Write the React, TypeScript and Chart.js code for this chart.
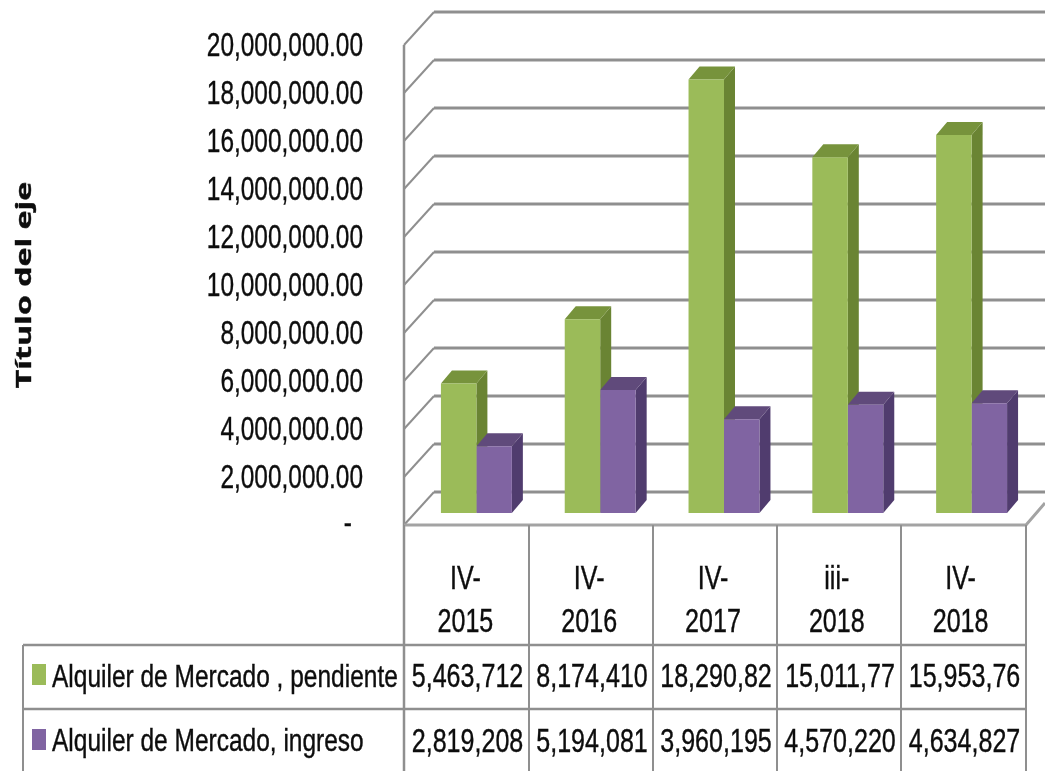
import React, { useEffect, useRef } from "react";
import { Chart, registerables } from "chart.js";

Chart.register(...registerables);

const categories = [["IV-", "2015"], ["IV-", "2016"], ["IV-", "2017"], ["iii-", "2018"], ["IV-", "2018"]];
const seriesNames = ["Alquiler de Mercado , pendiente", "Alquiler de Mercado, ingreso"];
const pendiente = [5463712, 8174410, 18290820, 15011770, 15953760];
const ingreso = [2819208, 5194081, 3960195, 4570220, 4634827];
const pendienteLabels = ["5,463,712", "8,174,410", "18,290,82", "15,011,77", "15,953,76"];
const ingresoLabels = ["2,819,208", "5,194,081", "3,960,195", "4,570,220", "4,634,827"];
const axisTitle = "Título del eje";

const SANS = '"Liberation Sans"';
const GRID = "#8f8f8f";
const TEXT = "#0d0d0d";
const FRONT = ["#9BBB59", "#8064A2"];
const TOP = ["#77933C", "#604A7B"];
const SIDE = ["#6A8433", "#503C6E"];
const DX = 11;
const DY = 13;

const line = (ctx: CanvasRenderingContext2D, pts: number[][], w: number, c: string) => {
  ctx.beginPath();
  pts.forEach((p, i) => (i ? ctx.lineTo(p[0], p[1]) : ctx.moveTo(p[0], p[1])));
  ctx.lineWidth = w;
  ctx.strokeStyle = c;
  ctx.stroke();
};
const poly = (ctx: CanvasRenderingContext2D, pts: number[][], c: string) => {
  ctx.beginPath();
  pts.forEach((p, i) => (i ? ctx.lineTo(p[0], p[1]) : ctx.moveTo(p[0], p[1])));
  ctx.closePath();
  ctx.fillStyle = c;
  ctx.fill();
};
// text squeezed or stretched along its run, as in the reference
const text = (
  ctx: CanvasRenderingContext2D,
  s: string,
  x: number,
  y: number,
  font: string,
  sx: number,
  align: CanvasTextAlign,
  rot = 0,
) => {
  ctx.save();
  ctx.translate(x, y);
  if (rot) ctx.rotate(rot);
  ctx.scale(sx, 1);
  ctx.font = font;
  ctx.textAlign = align;
  ctx.textBaseline = "middle";
  ctx.fillStyle = TEXT;
  ctx.fillText(s, 0, 0);
  ctx.strokeStyle = TEXT;
  ctx.lineWidth = 0.4;
  ctx.strokeText(s, 0, 0);
  ctx.restore();
};
const fmt = (v: number) =>
  v === 0 ? "-" : v.toLocaleString("en-US", { minimumFractionDigits: 2, maximumFractionDigits: 2 });

const threeD = {
  id: "threeD",
  beforeDatasetsDraw(chart: any) {
    const ctx: CanvasRenderingContext2D = chart.ctx;
    const y = chart.scales.y;
    const wall = (v: number) => 525 - (y.getPixelForValue(0) - y.getPixelForValue(v)) * 1.0127;
    ctx.save();
    line(ctx, [[404, wall(20000000)], [404, 771]], 2.5, GRID);
    y.ticks.forEach((t: any) => {
      const fy = wall(t.value);
      const by = fy - 33;
      line(ctx, [[404, fy], [434, by]], 2, GRID);
      line(ctx, [[434, by], [1045, by]], 3, GRID);
      if (t.value === 0) text(ctx, fmt(0), 352, fy, `33px ${SANS}`, 0.74, "right");
      else text(ctx, fmt(t.value), 363, fy + 2, `33px ${SANS}`, 0.74, "right");
    });
    line(ctx, [[404, wall(0)], [1026, wall(0)], [1045, wall(0) - 22]], 3, "#a3a3a3");
    [0, 1].forEach((d) => {
      chart.getDatasetMeta(d).data.forEach((b: any) => {
        const l = b.x - b.width / 2;
        const r = b.x + b.width / 2;
        poly(ctx, [[r, b.y], [r + DX, b.y - DY], [r + DX, b.base - DY], [r, b.base]], SIDE[d]);
        poly(ctx, [[l, b.y], [r, b.y], [r + DX, b.y - DY], [l + DX, b.y - DY]], TOP[d]);
      });
    });
    ctx.restore();
  },
  afterDraw(chart: any) {
    const ctx: CanvasRenderingContext2D = chart.ctx;
    const x = chart.scales.x;
    ctx.save();
    const xs = [404, 529, 653, 777, 901, 1026];
    xs.forEach((px) => line(ctx, [[px, 525], [px, 771]], 2, GRID));
    line(ctx, [[23, 645], [1026, 645]], 2.5, GRID);
    line(ctx, [[23, 709], [1026, 709]], 2.5, GRID);
    line(ctx, [[23, 645], [23, 771]], 2, GRID);
    categories.forEach((c, i) => {
      const cx = x.getPixelForTick(i) - 11;
      text(ctx, c[0], cx, 580, `33px ${SANS}`, 0.76, "center");
      text(ctx, c[1], cx, 623, `33px ${SANS}`, 0.76, "center");
    });
    ctx.fillStyle = FRONT[0];
    ctx.fillRect(32, 664, 14, 21);
    ctx.fillStyle = FRONT[1];
    ctx.fillRect(32, 729, 14, 21);
    seriesNames.forEach((s, r) => text(ctx, s, 52, r ? 742 : 678, `31px ${SANS}`, 0.79, "left"));
    [pendienteLabels, ingresoLabels].forEach((row, r) => {
      row.forEach((s, i) =>
        text(ctx, s, (xs[i] + xs[i + 1]) / 2 + 1, r ? 743 : 678, `33px ${SANS}`, 0.76, "center"),
      );
    });
    text(ctx, axisTitle, 25, 285, 'bold 22px "Open Sans"', 1.46, "center", -Math.PI / 2);
    ctx.restore();
  },
};

export default function App() {
  const ref = useRef<HTMLCanvasElement>(null);
  useEffect(() => {
    document.body.style.margin = "0";
    const chart = new Chart(ref.current!, {
      type: "bar",
      data: {
        labels: categories as any,
        datasets: [
          { label: seriesNames[0], data: pendiente, backgroundColor: FRONT[0], categoryPercentage: 0.573, barPercentage: 1 },
          { label: seriesNames[1], data: ingreso, backgroundColor: FRONT[1], categoryPercentage: 0.573, barPercentage: 1 },
        ],
      },
      options: {
        animation: false,
        responsive: false,
        layout: { padding: { top: 39, right: 11.5, bottom: 0, left: 0 } },
        plugins: { legend: { display: false }, tooltip: { enabled: false } },
        scales: {
          x: {
            grid: { display: false },
            border: { display: false },
            afterFit: (s: any) => { s.height = 258; },
            ticks: { display: false, autoSkip: false },
          },
          y: {
            min: 0,
            max: 20000000,
            grid: { display: false },
            border: { display: false },
            afterFit: (s: any) => { s.width = 414.5; },
            ticks: { display: false, stepSize: 2000000 },
          },
        },
      },
      plugins: [threeD],
    } as any);
    return () => chart.destroy();
  }, []);
  return <canvas ref={ref} width={1045} height={771} style={{ display: "block" }} />;
}
